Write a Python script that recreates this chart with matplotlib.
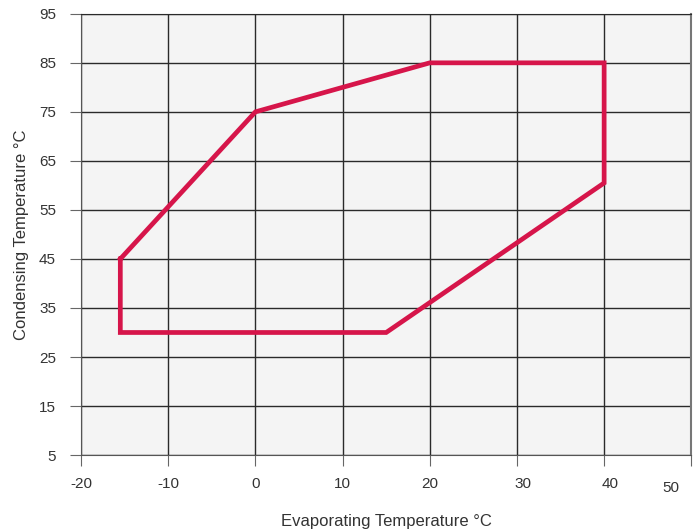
import matplotlib.pyplot as plt
import matplotlib.transforms as mtransforms

plt.rcParams['font.family'] = ['Liberation Sans', 'DejaVu Sans']
plt.rcParams['axes.unicode_minus'] = False

# operating envelope (evaporating, condensing) in deg C
evap = [-15.5, 0, 20, 40, 40, 15, -15.5, -15.5]
cond = [45, 75, 85, 85, 60.5, 30, 30, 45]

x_ticks = [-20, -10, 0, 10, 20, 30, 40, 50]
y_ticks = [5, 15, 25, 35, 45, 55, 65, 75, 85, 95]

fig = plt.figure(figsize=(6.99, 5.31), dpi=100)
ax = fig.add_axes([0.116, 0.143, 0.873, 0.831])
ax.set_facecolor('#f4f4f4')

ax.plot(evap, cond, color='#d6154a', lw=3.4, solid_joinstyle='miter', zorder=3)

ax.set_xlim(-20, 50)
ax.set_ylim(5, 95)
ax.set_xticks(x_ticks)
ax.set_yticks(y_ticks)
ax.grid(True, color='#2a2a2a', lw=1)
ax.set_axisbelow(True)

for s in ['left', 'bottom']:
    ax.spines[s].set_color('#555555')
ax.spines['top'].set_color('#2a2a2a')
ax.spines['right'].set_color('#777777')
ax.spines['right'].set_linewidth(1.5)

ax.tick_params(axis='x', length=8, color='#666666', labelsize=11, labelcolor='#333333', pad=8)
ax.tick_params(axis='y', length=8, color='#666666', labelsize=11, labelcolor='#333333', pad=10)

# nudge the last x label like in the original
lbl = ax.get_xticklabels()[-1]
lbl.set_transform(lbl.get_transform() + mtransforms.ScaledTranslation(-0.2, -0.04, fig.dpi_scale_trans))
for lbl in ax.get_xticklabels()[5:7]:
    lbl.set_transform(lbl.get_transform() + mtransforms.ScaledTranslation(0.06, 0, fig.dpi_scale_trans))

ax.set_xlabel('Evaporating Temperature °C', fontsize=12, color='#333333', va='center')
ax.xaxis.set_label_coords(0.5, -0.15)
ax.set_ylabel('Condensing Temperature °C', fontsize=12, color='#333333', labelpad=7)

fig.savefig('out.png', dpi=100)
